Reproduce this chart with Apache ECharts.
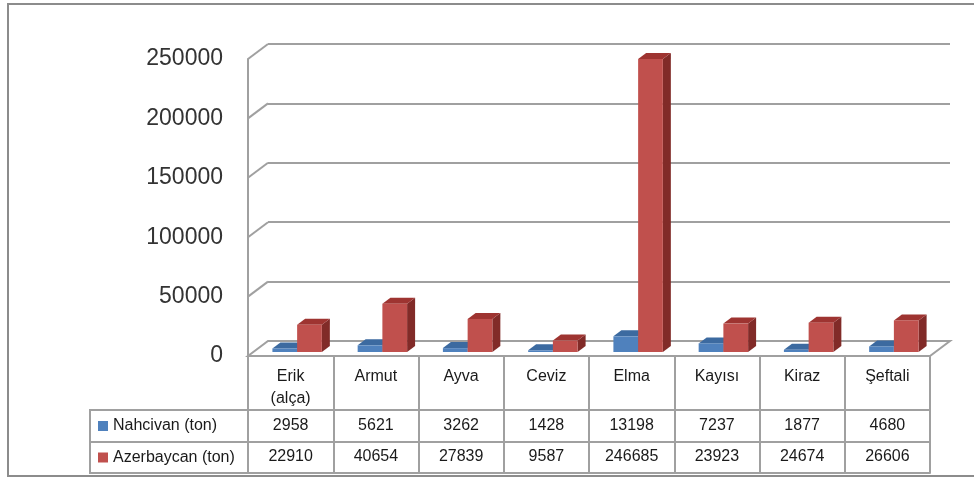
<!DOCTYPE html>
<html>
<head>
<meta charset="utf-8">
<script src="https://cdn.jsdelivr.net/npm/echarts@6/dist/echarts.min.js"></script>
<style>
  html, body { margin: 0; padding: 0; background: #fff; }
  #chart { width: 974px; height: 479px; }
</style>
</head>
<body>
<div id="chart"></div>
<script>
const categories = ['Erik\n(alça)', 'Armut', 'Ayva', 'Ceviz', 'Elma', 'Kayısı', 'Kiraz', 'Şeftali']
const nahcivan = [2958, 5621, 3262, 1428, 13198, 7237, 1877, 4680]
const azerbaycan = [22910, 40654, 27839, 9587, 246685, 23923, 24674, 26606]
const seriesNames = ['Nahcivan (ton)', 'Azerbaycan (ton)']
const yTicks = [0, 50000, 100000, 150000, 200000, 250000]

const FONT = 'Liberation Sans'
const GRAY = '#a0a0a0'
// depth of the wall (front plane -> back plane)
const WALL_DX = 20, WALL_DY = -15
// bars sit a bit behind the front plane
const OFF_X = 6.5, OFF_Y = -4
const BAR_DX = 8, BAR_DY = -6

const colors = [
  { front: '#4f81bd', top: '#3c6aa0', side: '#2f5a8c' },
  { front: '#c0504d', top: '#9e3431', side: '#812b28' }
]

const chart = echarts.init(document.getElementById('chart'))

const barRender = (s) => (params, api) => {
  const v = api.value(1)
  const base = api.coord([api.value(0), 0])
  const top = api.coord([api.value(0), v])
  const band = api.size([1, 0])[0]
  const w = band * 0.29
  const x0 = base[0] + OFF_X + (s === 0 ? -w : 0)
  const yb = base[1] + OFF_Y
  const yt = top[1] + OFF_Y
  const c = colors[s]
  return {
    type: 'group',
    children: [
      { type: 'polygon', shape: { points: [[x0 + w, yt], [x0 + w + BAR_DX, yt + BAR_DY], [x0 + w + BAR_DX, yb + BAR_DY], [x0 + w, yb]] }, style: { fill: c.side } },
      { type: 'polygon', shape: { points: [[x0, yt], [x0 + w, yt], [x0 + w + BAR_DX, yt + BAR_DY], [x0 + BAR_DX, yt + BAR_DY]] }, style: { fill: c.top } },
      { type: 'rect', shape: { x: x0, y: yt, width: w, height: yb - yt }, style: { fill: c.front } }
    ]
  }
}

const labelRow = (arr) => (v, i) => String(arr[i])

const option = {
  animation: false,
  textStyle: { fontFamily: FONT },
  grid: [
    { left: 248, top: 59, width: 682, height: 297 },
    { left: 248 + WALL_DX, top: 59 + WALL_DY, width: 682, height: 297 }
  ],
  xAxis: [
    {
      gridIndex: 0, type: 'category', data: categories,
      axisLine: { lineStyle: { color: GRAY, width: 2 } },
      axisTick: { show: true, length: 54, lineStyle: { color: GRAY, width: 2 } },
      axisLabel: { fontSize: 16, lineHeight: 22, color: '#1a1a1a', margin: 10, interval: 0 }
    },
    {
      gridIndex: 0, type: 'category', data: categories, position: 'bottom', offset: 54,
      axisLine: { lineStyle: { color: GRAY, width: 2 } },
      axisTick: { show: true, length: 32, lineStyle: { color: GRAY, width: 2 } },
      axisLabel: { fontSize: 16, color: '#1a1a1a', margin: 8, interval: 0, formatter: labelRow(nahcivan) }
    },
    {
      gridIndex: 0, type: 'category', data: categories, position: 'bottom', offset: 86,
      axisLine: { lineStyle: { color: GRAY, width: 2 } },
      axisTick: { show: true, length: 31, lineStyle: { color: GRAY, width: 2 } },
      axisLabel: { fontSize: 16, color: '#1a1a1a', margin: 7, interval: 0, formatter: labelRow(azerbaycan) }
    },
    {
      gridIndex: 0, type: 'category', data: categories, position: 'bottom', offset: 117,
      axisLine: { lineStyle: { color: GRAY, width: 2 } },
      axisTick: { show: false }, axisLabel: { show: false }
    },
    { gridIndex: 1, type: 'category', data: categories, show: false }
  ],
  yAxis: [
    {
      gridIndex: 0, type: 'value', min: 0, max: 250000, interval: 50000,
      axisLine: { show: true, lineStyle: { color: GRAY, width: 2 } },
      axisTick: { show: false }, splitLine: { show: false },
      axisLabel: { fontSize: 23, color: '#333', margin: 25, padding: [8, 0, 0, 0], formatter: v => String(v) }
    },
    {
      gridIndex: 1, type: 'value', min: 0, max: 250000, interval: 50000,
      axisLine: { show: false }, axisTick: { show: false }, axisLabel: { show: false },
      splitLine: { show: true, lineStyle: { color: GRAY, width: 2 } }
    }
  ],
  graphic: [
    { type: 'rect', z: -10, shape: { x: 8, y: 4, width: 1000, height: 472 }, style: { fill: 'none', stroke: '#8c8c8c', lineWidth: 2 } },
    { type: 'rect', shape: { x: 90, y: 410, width: 158, height: 63 }, style: { fill: 'none', stroke: GRAY, lineWidth: 2 } },
    { type: 'line', shape: { x1: 90, y1: 442, x2: 248, y2: 442 }, style: { stroke: GRAY, lineWidth: 2 } },
    ...seriesNames.flatMap((name, k) => {
      const cy = k === 0 ? 426 : 457.5
      return [
        { type: 'rect', shape: { x: 98, y: cy - 5, width: 10, height: 10 }, style: { fill: colors[k].front } },
        { type: 'text', x: 113, y: cy, style: { text: name, fontSize: 16, fontFamily: FONT, fill: '#1a1a1a', verticalAlign: 'middle' } }
      ]
    })
  ],
  series: [
    {
      // wall corner edges and floor
      type: 'custom', xAxisIndex: 0, yAxisIndex: 0, silent: true, clip: false, z: 1,
      data: yTicks.map(v => [0, v]),
      renderItem: (params, api) => {
        const cs = params.coordSys
        const y = api.coord([0, api.value(1)])[1]
        const x = cs.x
        if (api.value(1) === 0) {
          return {
            type: 'polygon',
            shape: { points: [[x, y], [x + cs.width, y], [x + cs.width + WALL_DX, y + WALL_DY], [x + WALL_DX, y + WALL_DY]] },
            style: { fill: '#fff', stroke: GRAY, lineWidth: 2 }
          }
        }
        return {
          type: 'line',
          shape: { x1: x, y1: y, x2: x + WALL_DX, y2: y + WALL_DY },
          style: { stroke: GRAY, lineWidth: 2 }
        }
      }
    },
    {
      name: seriesNames[0], type: 'custom', xAxisIndex: 0, yAxisIndex: 0, clip: false, z: 2,
      data: nahcivan.map((v, i) => [i, v]),
      renderItem: barRender(0)
    },
    {
      name: seriesNames[1], type: 'custom', xAxisIndex: 0, yAxisIndex: 0, clip: false, z: 3,
      data: azerbaycan.map((v, i) => [i, v]),
      renderItem: barRender(1)
    }
  ]
}

chart.setOption(option)
</script>
</body>
</html>
